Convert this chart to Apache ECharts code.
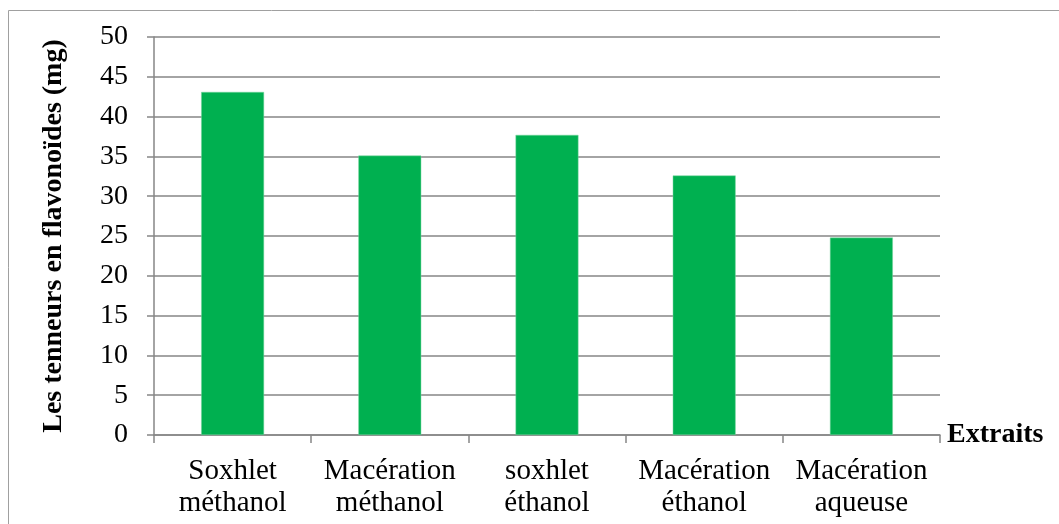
<!DOCTYPE html>
<html>
<head>
<meta charset="utf-8">
<script src="https://cdn.jsdelivr.net/npm/echarts@6/dist/echarts.min.js"></script>
<style>
  html, body { margin: 0; padding: 0; background: #ffffff; }
  #chart { width: 1059px; height: 524px; }
</style>
</head>
<body>
<div id="chart"></div>
<script>
// Flavonoid content per extraction method
const categories = [
  'Soxhlet\nméthanol',
  'Macération\nméthanol',
  'soxhlet\néthanol',
  'Macération\néthanol',
  'Macération\naqueuse'
];
const flavonoidValues = [43.1, 35.1, 37.7, 32.6, 24.8];
const yAxisTitle = 'Les tenneurs en flavonoïdes (mg)';
const xAxisTitle = 'Extraits';

const serif = '"Liberation Serif", "Times New Roman", serif';
const axisGray = '#868686';

const chart = echarts.init(document.getElementById('chart'), null, { renderer: 'canvas' });

chart.setOption({
  animation: false,
  backgroundColor: '#ffffff',
  graphic: [{
    type: 'rect',
    shape: { x: 8.5, y: 10.5, width: 1200, height: 600 },
    style: { fill: 'none', stroke: '#a0a0a0', lineWidth: 1 },
    silent: true
  }],
  grid: { left: 154, right: 119, top: 37, bottom: 89, containLabel: false },
  xAxis: {
    type: 'category',
    data: categories,
    name: xAxisTitle,
    nameLocation: 'end',
    nameGap: 7,
    nameTextStyle: {
      fontFamily: serif, fontSize: 28, fontWeight: 'bold', color: '#000',
      verticalAlign: 'middle', padding: [0, 0, 14, 0]
    },
    axisLine: { show: true, lineStyle: { color: axisGray, width: 1.5 } },
    axisTick: { show: true, alignWithLabel: false, length: 8, lineStyle: { color: axisGray, width: 1.5 } },
    axisLabel: {
      fontFamily: serif, fontSize: 29, color: '#000',
      lineHeight: 32, margin: 20, interval: 0
    }
  },
  yAxis: {
    type: 'value',
    min: 0, max: 50, interval: 5,
    name: yAxisTitle,
    nameLocation: 'middle',
    nameGap: 86,
    nameRotate: 90,
    nameTextStyle: { fontFamily: serif, fontSize: 28, fontWeight: 'bold', color: '#000' },
    axisLine: { show: true, lineStyle: { color: axisGray, width: 1.5 } },
    axisTick: { show: true, length: 7, lineStyle: { color: axisGray, width: 1.5 } },
    axisLabel: { fontFamily: serif, fontSize: 28, color: '#000', margin: 26 },
    splitLine: { show: true, lineStyle: { color: axisGray, width: 1.5 } }
  },
  series: [{
    type: 'bar',
    data: flavonoidValues,
    barWidth: '40%',
    itemStyle: { color: '#00b050', borderColor: '#7ad6a0', borderWidth: 0.5 }
  }]
});
</script>
</body>
</html>
